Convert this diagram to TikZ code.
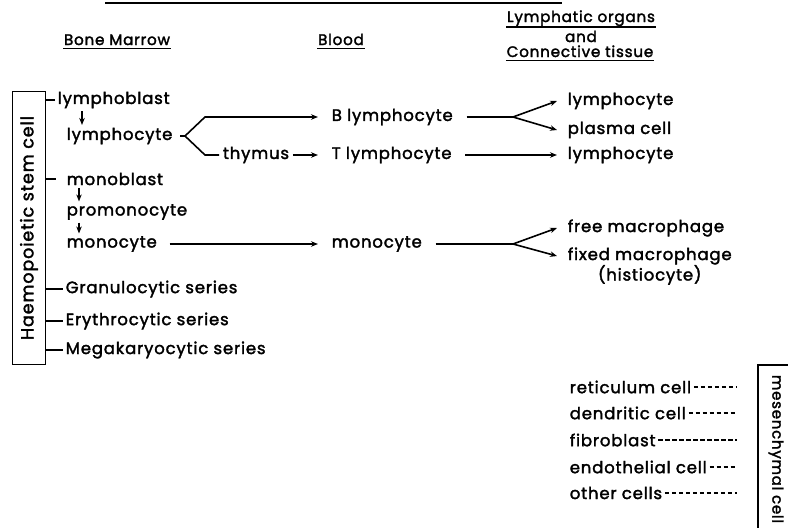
\documentclass[tikz,border=0pt]{standalone}
\usepackage{fontspec}
\setmainfont{Poppins}[LetterSpace=5,FakeBold=2]
\usetikzlibrary{arrows.meta,positioning}
\begin{document}
\begin{tikzpicture}[x=1pt,y=-1pt,line width=1.6pt,>={Stealth[length=7pt,width=5.5pt]},
  every node/.style={font=\fontsize{16.5}{16.5}\selectfont},
  head/.style={anchor=base,inner sep=0pt,font=\fontsize{15.2}{16.8}\selectfont},
  uline/.style={line width=1.5pt},
  cell/.style={anchor=west,inner sep=2pt},
  mid/.style={anchor=west,inner xsep=13pt,inner ysep=2pt},
  rtext/.style={anchor=west,inner xsep=10pt,inner ysep=2pt},
  dashline/.style={line width=1.3pt,dash pattern=on 4.5pt off 2.5pt}]
\useasboundingbox (0,0) rectangle (788,528);
\draw [line width=2.5pt] (105,3) -- (562,3);
\node [head] (bm) at (117,45) {Bone Marrow};
\node [head] (bl) at (341,45) {Blood};
\node [head] (lo1) at (581,22) {Lymphatic organs};
\node [head] (lo2) at (581,42) {and};
\node [head] (lo3) at (580,57) {Connective tissue};
\draw [uline] ([yshift=-3.5pt]bm.base west) -- ([yshift=-3.5pt]bm.base east);
\draw [uline] ([yshift=-3.5pt]bl.base west) -- ([yshift=-3.5pt]bl.base east);
\draw [uline] ([yshift=-5pt]lo1.base west) -- ([yshift=-5pt]lo1.base east);
\draw [uline] ([yshift=-3.5pt]lo3.base west) -- ([yshift=-3.5pt]lo3.base east);
\node [draw,rotate=90,minimum width=273pt,minimum height=33pt,inner sep=0pt,font=\fontsize{17.5}{18}\selectfont] (haem) at (29,228) {Haemopoietic stem cell};
\node [cell] (lblast) at (55,100) {lymphoblast};
\node [cell] (lcyte) at (64,136) {lymphocyte};
\node [cell] (mblast) at (64,179) {monoblast};
\node [cell] (pmono) at (64,212) {promonocyte};
\node [cell] (mcyte) at (64,244) {monocyte};
\node [cell] (gran) at (63,289) {Granulocytic series};
\node [cell] (eryth) at (63,321) {Erythrocytic series};
\node [cell] (mega) at (63,350) {Megakaryocytic series};
\draw (haem.south |- lblast.west) -- (lblast.west);
\draw [shorten >=8pt] (haem.south |- mblast.west) -- (mblast.west);
\draw (haem.south |- gran.west) -- (gran.west);
\draw (haem.south |- eryth.west) -- (eryth.west);
\draw (haem.south |- mega.west) -- (mega.west);
\coordinate (ax1) at (82,0);
\coordinate (ax2) at (79,0);
\draw [->] (lblast.south -| ax1) -- (lcyte.north -| ax1);
\draw [->] (mblast.south -| ax2) -- (pmono.north -| ax2);
\draw [->] (pmono.south -| ax2) -- (mcyte.north -| ax2);
\node [mid] (blym) at (318,117) {B lymphocyte};
\node [inner xsep=3pt] (thym) at (256,155) {thymus};
\node [mid] (tlym) at (318,155) {T lymphocyte};
\node [mid] (bmono) at (318,244) {monocyte};
\coordinate (lfork) at (185,136);
\draw [->,shorten <=5pt] (lcyte.east) -- (lfork) -- ++(20,-19) -- (blym.west);
\draw (lfork) -- ++(20,19) -- (thym.west);
\draw [->] (thym.east) -- (tlym.west);
\draw [->,shorten <=10pt] (mcyte.east) -- (bmono.west);
\node [rtext] (rlym1) at (557,101) {lymphocyte};
\node [rtext] (plasma) at (557,130) {plasma cell};
\node [rtext] (rlym2) at (557,155) {lymphocyte};
\node [rtext] (freem) at (557,228) {free macrophage};
\node [rtext] (fixm) at (557,256) {fixed macrophage};
\node [below=-3pt of fixm,inner sep=0pt] (hist) {(histiocyte)};
\coordinate (bfork) at (513,117);
\coordinate (mfork) at (513,244);
\draw (blym.east) -- (bfork);
\draw [->] (bfork) -- (rlym1.west);
\draw [->] (bfork) -- (plasma.west);
\draw [->] (tlym.east) -- (rlym2.west);
\draw (bmono.east) -- (mfork);
\draw [->] (mfork) -- (freem.west);
\draw [->] (mfork) -- (fixm.west);
\node [cell] (ret) at (567,387) {reticulum cell};
\node [cell] (den) at (567,413) {dendritic cell};
\node [cell] (fib) at (567,440) {fibroblast};
\node [cell] (endo) at (567,467) {endothelial cell};
\node [cell] (oth) at (567,493) {other cells};
\coordinate (dend) at (737,0);
\foreach \n in {ret,den,fib,endo,oth}
  \draw [dashline] (\n.east) -- (\n.east -| dend);
\draw (758,365) rectangle (820,560);
\node [rotate=-90,font=\fontsize{15}{16}\selectfont] (mes) at (776,449) {mesenchymal cell};
\end{tikzpicture}
\end{document}
